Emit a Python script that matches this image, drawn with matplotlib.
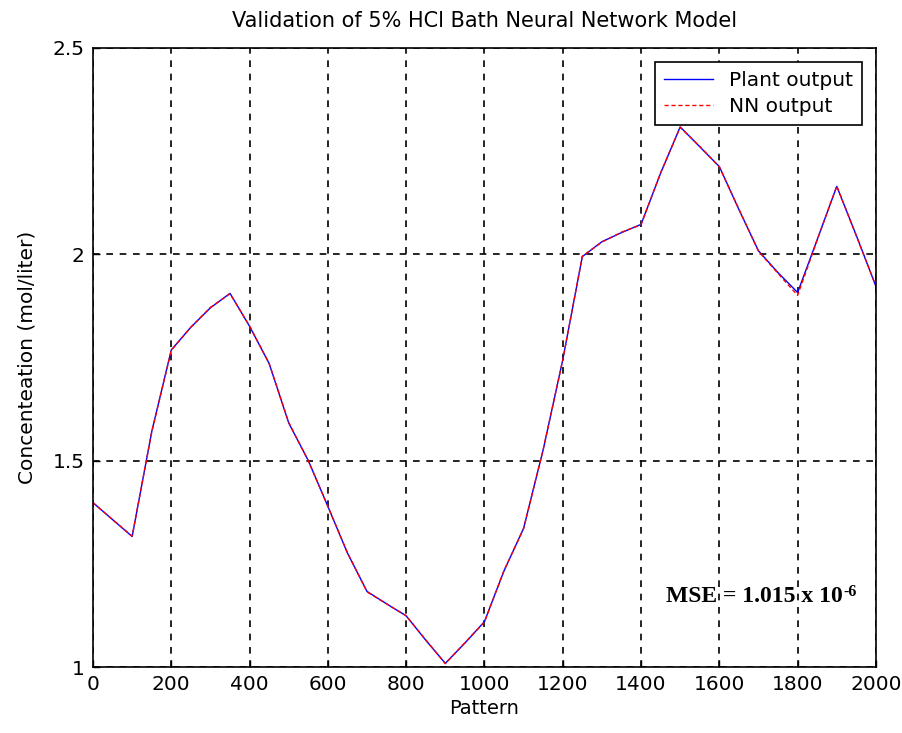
import numpy as np
import matplotlib
matplotlib.use('Agg')
import matplotlib.pyplot as plt

# pattern index and concentration
pattern = [0, 50, 100, 150, 200, 250, 300, 350, 400, 450, 500, 550, 600, 650, 700,
           750, 800, 850, 900, 950, 1000, 1050, 1100, 1150, 1200, 1250, 1300, 1350,
           1400, 1450, 1500, 1550, 1600, 1650, 1700, 1750, 1800, 1850, 1900, 1950, 2000]
plant_out = [1.398, 1.357, 1.316, 1.570, 1.768, 1.823, 1.870, 1.905, 1.825, 1.735,
             1.591, 1.500, 1.389, 1.276, 1.183, 1.153, 1.124, 1.065, 1.009, 1.058,
             1.110, 1.233, 1.336, 1.526, 1.744, 1.994, 2.030, 2.052, 2.072, 2.196,
             2.308, 2.260, 2.212, 2.108, 2.008, 1.955, 1.907, 2.035, 2.164, 2.045, 1.922]
nn_out = [1.398, 1.357, 1.317, 1.569, 1.767, 1.823, 1.871, 1.904, 1.826, 1.735,
          1.592, 1.499, 1.389, 1.277, 1.182, 1.153, 1.124, 1.066, 1.008, 1.059,
          1.109, 1.234, 1.335, 1.527, 1.743, 1.995, 2.029, 2.053, 2.071, 2.197,
          2.307, 2.261, 2.211, 2.109, 2.007, 1.953, 1.900, 2.034, 2.165, 2.044, 1.923]

xticks = [0, 200, 400, 600, 800, 1000, 1200, 1400, 1600, 1800, 2000]
yticks = [1, 1.5, 2, 2.5]
ytick_labels = ['1', '1.5', '2', '2.5']

plt.rcParams['font.family'] = ['DejaVu Sans']

fig = plt.figure(figsize=(9.03, 7.33), dpi=100)
ax = fig.add_axes([0.103, 0.090, 0.867, 0.845])

ax.plot(pattern, plant_out, 'b-', lw=1.0, label='Plant output')
ax.plot(pattern, nn_out, 'r--', lw=1.0, dashes=(3, 2), label='NN output')

ax.set_xlim(0, 2000)
ax.set_ylim(1, 2.5)
ax.set_xticks(xticks)
ax.set_yticks(yticks)
ax.set_yticklabels(ytick_labels)
ax.tick_params(direction='in', length=5, width=1, labelsize=14.5, pad=6, color='black')
ax.grid(True, color='black', linestyle=(0, (4, 4)), linewidth=1.2)
ax.set_axisbelow(True)
for s in ax.spines.values():
    s.set_linewidth(1.2)

ax.set_title('Validation of 5% HCl Bath Neural Network Model', fontsize=15, pad=15)
ax.set_xlabel('Pattern', fontsize=14, labelpad=3)
ax.set_ylabel('Concenteation (mol/liter)', fontsize=14.5, labelpad=12)

leg = ax.legend(loc='upper right', fontsize=14.5, frameon=True, fancybox=False,
                edgecolor='black', framealpha=1, borderpad=0.45, handlelength=2.4,
                handletextpad=0.8, borderaxespad=0.7, labelspacing=0.35)
leg.get_frame().set_linewidth(1.2)

mse = ax.text(1463, 1.158, 'MSE = 1.015 x 10', fontsize=17, fontweight='bold',
              family='Liberation Serif')
ax.annotate('-6', xy=(1, 1), xycoords=mse, xytext=(1, 1), textcoords='offset points',
            ha='left', va='top', fontsize=11.5, fontweight='bold', family='Liberation Serif')

fig.savefig('out.png', dpi=100)
